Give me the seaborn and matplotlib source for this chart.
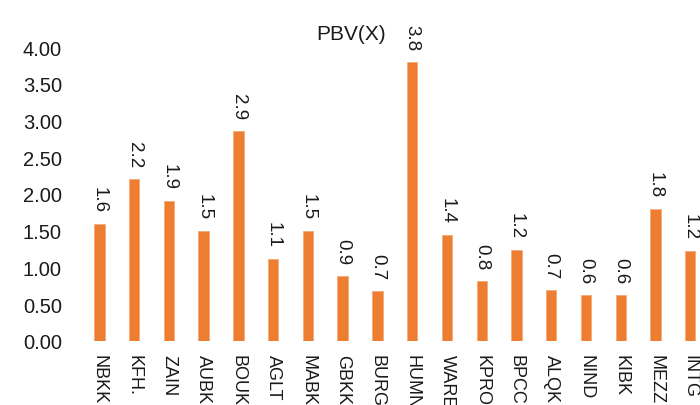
import matplotlib
matplotlib.use("Agg")
import matplotlib.pyplot as plt
import seaborn as sns
import pandas as pd

# PBV values
tickers = ["NBKK", "KFH.", "ZAIN", "AUBK", "BOUK", "AGLT", "MABK", "GBKK", "BURG",
           "HUMN", "WARE", "KPRO", "BPCC", "ALQK", "NIND", "KIBK", "MEZZ", "INTG"]
pbv = [1.59, 2.20, 1.90, 1.49, 2.86, 1.12, 1.49, 0.89, 0.68,
       3.80, 1.44, 0.82, 1.24, 0.69, 0.62, 0.62, 1.79, 1.22]
y_ticks = [0.0, 0.5, 1.0, 1.5, 2.0, 2.5, 3.0, 3.5, 4.0]

df = pd.DataFrame({"ticker": tickers, "pbv": pbv})

sns.set_style("white")
plt.rcParams["font.family"] = ["Liberation Sans", "DejaVu Sans"]
plt.rcParams["font.size"] = 13

fig = plt.figure(figsize=(7, 4.06), dpi=100)
ax = fig.add_axes([82 / 700, 1 - 342 / 406, 618 / 700, (342 - 48) / 406])

sns.barplot(data=df, x="ticker", y="pbv", color="#ED7D31", width=0.3,
            saturation=1, edgecolor="#F4A76F", linewidth=0.5, ax=ax)

# value labels above each bar, rotated like the reference
for i, v in enumerate(pbv):
    ax.annotate(f"{v:.1f}", (i, v), xytext=(0, 8.6), textcoords="offset points",
                rotation=270, ha="center", va="bottom", fontsize=13.5, color="#1a1a1a")

ax.set_xlim(-0.5, 17.28)
ax.set_ylim(0, 4.0)
ax.set_yticks(y_ticks)
ax.set_yticklabels([f"{t:.2f}" for t in y_ticks])
ax.set_xlabel("")
ax.set_ylabel("")
ax.tick_params(axis="y", length=0, pad=14.4, labelsize=14.5, labelcolor="#1a1a1a")
ax.tick_params(axis="x", length=0, pad=9.4, labelsize=13, labelcolor="#1a1a1a")
plt.setp(ax.get_xticklabels(), rotation=270, ha="center", va="top")
sns.despine(ax=ax, left=True, bottom=True)

fig.text(351 / 700, 1 - 35 / 406, "PBV(X)", ha="center", va="center",
         fontsize=15, color="#1a1a1a")

fig.savefig("out.png", dpi=100)
